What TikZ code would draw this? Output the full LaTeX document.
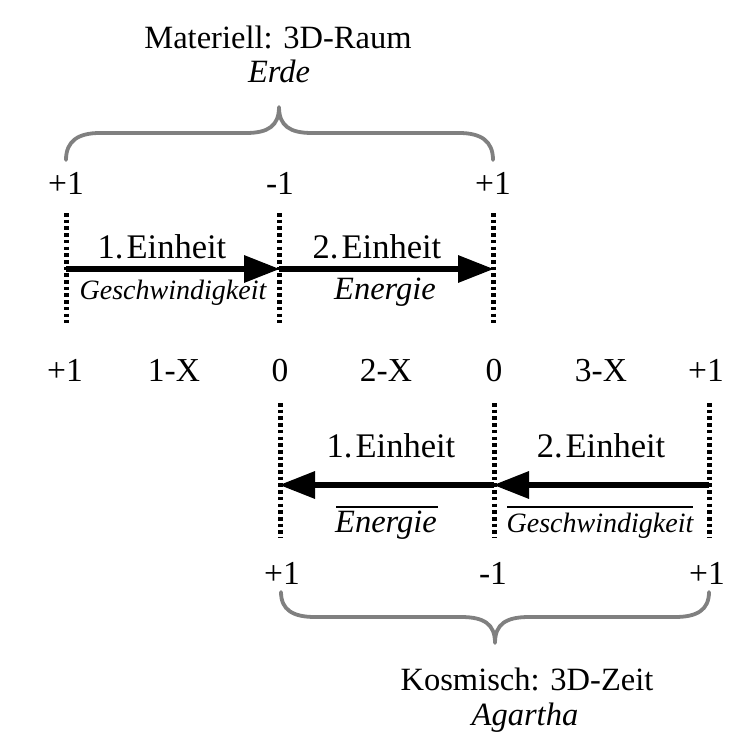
\documentclass[tikz,border=0pt]{standalone}
\usepackage{fontspec}
\setmainfont{Liberation Serif}
\usetikzlibrary{arrows.meta}
\definecolor{bracegray}{HTML}{808080}
\begin{document}
\begin{tikzpicture}[x=1pt,y=-1pt,
  big/.style={inner sep=0pt, anchor=base, font=\fontsize{33.5}{40}\selectfont},
  unit/.style={inner sep=0pt, anchor=base, font=\fontsize{34.5}{40}\selectfont},
  head/.style={inner sep=0pt, anchor=base, font=\fontsize{32.5}{38}\selectfont},
  headit/.style={inner sep=0pt, anchor=base, font=\fontsize{32.5}{38}\selectfont\itshape},
  itbig/.style={inner sep=0pt, anchor=base, font=\fontsize{32.5}{38}\selectfont\itshape},
  itsmall/.style={inner sep=0pt, anchor=base, font=\fontsize{28}{34}\selectfont\itshape},
  dotline/.style={line width=5pt, dash pattern=on 3.6pt off 3.1pt},
  bigarrow/.style={line width=6.3pt, -{Triangle[length=36pt,width=26pt]}, shorten >=-1pt},
  curly/.style={draw=bracegray, line width=3.8pt, line cap=round, line join=round},
  bar/.style={line width=2pt}]
\useasboundingbox (0,0) rectangle (739,746);

% ---- top block ----
\node[head] (mat) at (278,49) {Materiell: 3D-Raum};
\node[headit] (erde) at (279,83) {Erde};
\draw[curly] (66,160) .. controls (66,141) and (78,133) .. (100,133) -- (246,133)
  .. controls (268,133) and (279,126) .. (279,107)
  .. controls (279,126) and (290,133) .. (312,133) -- (459,133)
  .. controls (481,133) and (493,141) .. (493,160);

\node[big] (t1) at (66,194) {+1};
\node[big] (t2) at (280,194) {-1};
\node[big] (t3) at (493,194) {+1};

\coordinate (ta1) at (66,213);  \coordinate (tb1) at (66,323);
\coordinate (ta2) at (279,213); \coordinate (tb2) at (279,323);
\coordinate (ta3) at (493,213); \coordinate (tb3) at (493,323);
\draw[dotline] (ta1) -- (tb1);
\draw[dotline] (ta2) -- (tb2);
\draw[dotline] (ta3) -- (tb3);

\coordinate (p1) at (66,269);
\coordinate (p2) at (279,269);
\coordinate (p3) at (493,269);
\draw[bigarrow] (p1) -- (p2);
\draw[bigarrow] (p2) -- (p3);

\node[unit] (e1) at (162,258) {1.\hspace{3pt}Einheit};
\node[unit] (e2) at (377,258) {2.\hspace{3pt}Einheit};
\node[itsmall] (g1) at (173,299) {Geschwindigkeit};
\node[itbig] (en1) at (385,299) {Energie};

% ---- middle row ----
\node[big] (m1) at (65,381) {+1};
\node[big] (m2) at (174,381) {1-X};
\node[big] (m3) at (280,381) {0};
\node[big] (m4) at (386,381) {2-X};
\node[big] (m5) at (494,381) {0};
\node[big] (m6) at (601,381) {3-X};
\node[big] (m7) at (706,381) {+1};

% ---- bottom block ----
\coordinate (ba1) at (280,403); \coordinate (bb1) at (280,538);
\coordinate (ba2) at (494,403); \coordinate (bb2) at (494,538);
\coordinate (ba3) at (709,403); \coordinate (bb3) at (709,538);
\draw[dotline] (ba1) -- (bb1);
\draw[dotline] (ba2) -- (bb2);
\draw[dotline] (ba3) -- (bb3);

\coordinate (q1) at (280,485);
\coordinate (q2) at (494,485);
\coordinate (q3) at (709,485);
\draw[bigarrow] (q3) -- (q2);
\draw[bigarrow] (q2) -- (q1);

\node[unit] (f1) at (391,457) {1.\hspace{3pt}Einheit};
\node[unit] (f2) at (601,457) {2.\hspace{3pt}Einheit};
\node[itbig] (en2) at (386,532) {Energie};
\node[itsmall] (g2) at (600,532) {Geschwindigkeit};
\draw[bar] (336,507) -- (438,507);
\draw[bar] (507,507) -- (693,507);

\node[big] (b1) at (282,584) {+1};
\node[big] (b2) at (493,584) {-1};
\node[big] (b3) at (707,584) {+1};

\draw[curly] (281,592) .. controls (281,610) and (293,617) .. (315,617) -- (461,617)
  .. controls (484,617) and (495,624) .. (495,643)
  .. controls (495,624) and (506,617) .. (529,617) -- (675,617)
  .. controls (697,617) and (709,610) .. (709,592);

\node[head] (kos) at (527,690) {Kosmisch: 3D-Zeit};
\node[headit] (aga) at (525,725) {Agartha};
\end{tikzpicture}
\end{document}
